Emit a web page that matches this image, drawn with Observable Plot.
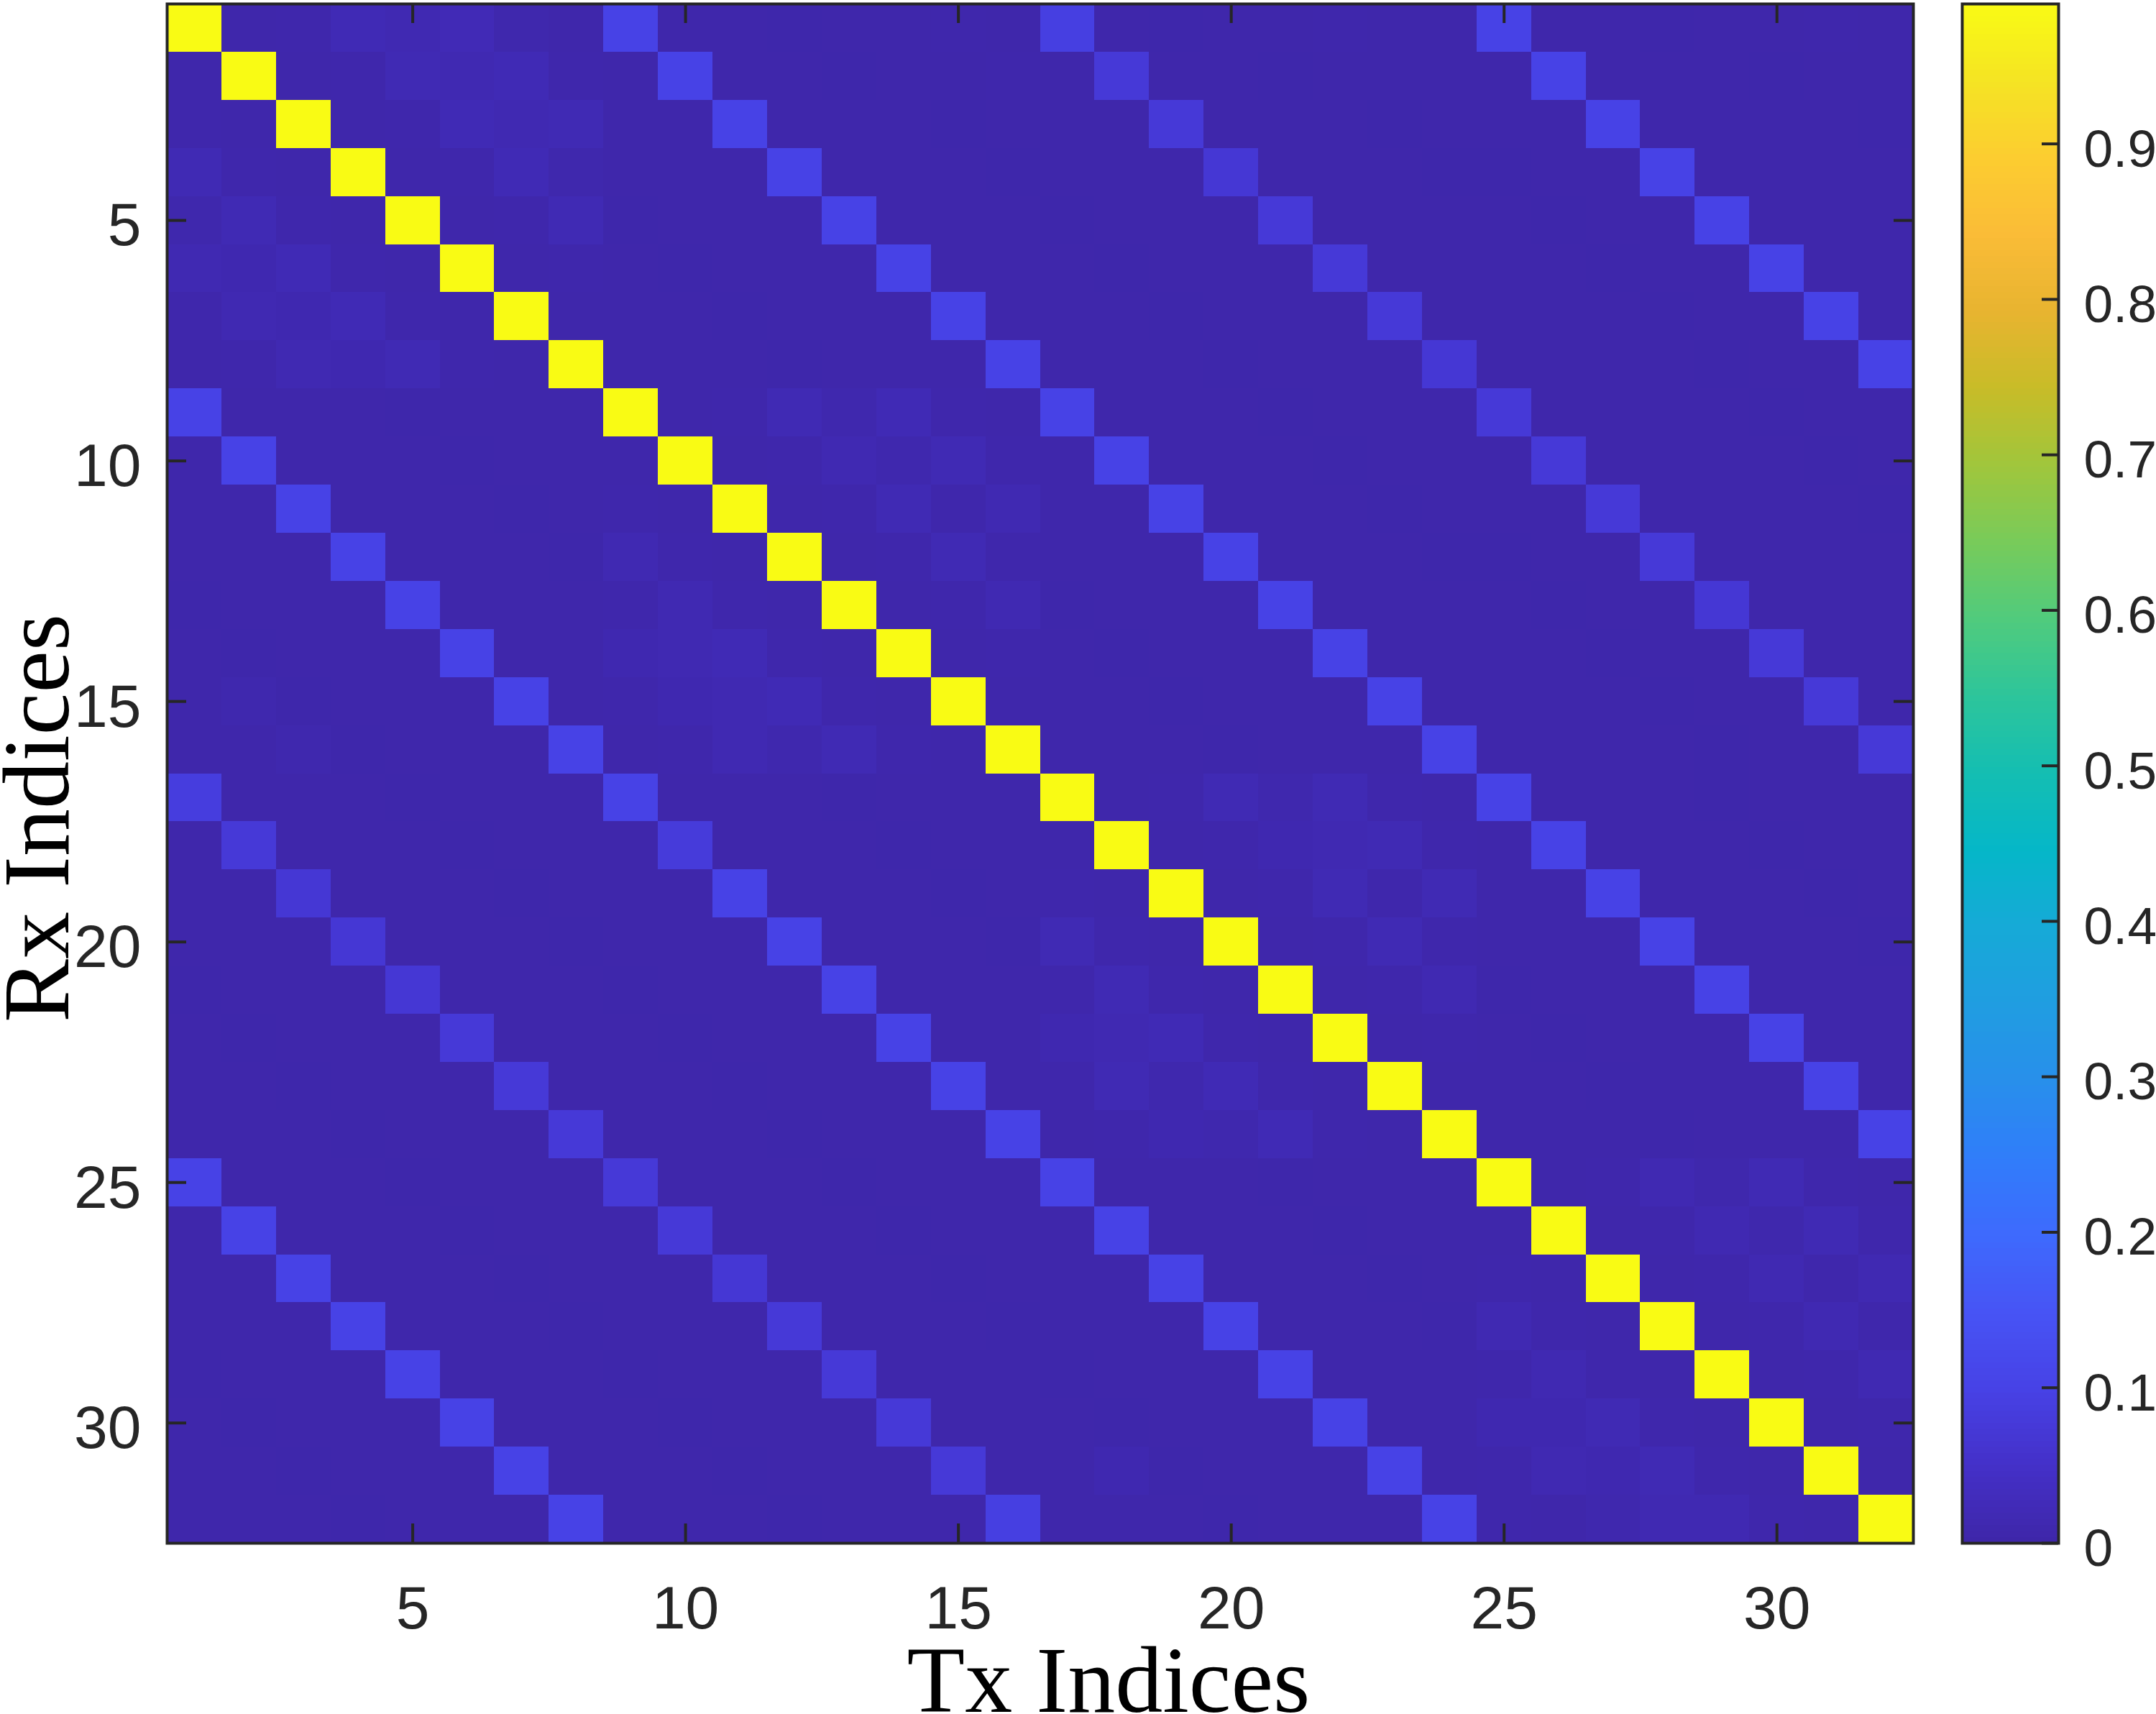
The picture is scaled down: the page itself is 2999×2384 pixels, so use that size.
<!DOCTYPE html>
<html><head><meta charset="utf-8">
<script src="https://cdn.jsdelivr.net/npm/d3@7"></script>
<script src="https://cdn.jsdelivr.net/npm/@observablehq/plot@0.6"></script>
<style>
body{margin:0;background:#fff;}
#wrap{position:relative;width:2999px;height:2384px;overflow:hidden;background:#fff;}
#wrap svg{position:absolute;top:0;}
</style>
</head><body><div id="wrap"></div>
<script>
// Tx (columns) and Rx (rows) indices
const txIndices = Array.from({length: 32}, (_, i) => i + 1);
const rxIndices = Array.from({length: 32}, (_, i) => i + 1);
const xTickValues = [5, 10, 15, 20, 25, 30];
const yTickValues = [5, 10, 15, 20, 25, 30];
const colorbarTicks = [0, 0.1, 0.2, 0.3, 0.4, 0.5, 0.6, 0.7, 0.8, 0.9];
const colorLimits = [0, 0.99];

// correlation magnitude, one array per Rx row (columns = Tx 1..32)
const rx01 = [.99,.005,.006,.02,.015,.022,.008,.005, .1,.005,.005,.004,.005,.005,.006,.005, .09,.005,.004,.005,.005,.006,.005,.005, .1,.005,.005,.004,.005,.005,.006,.005];
const rx02 = [.005,.99,.005,.006,.018,.015,.02,.006, .005,.1,.005,.005,.004,.005,.005,.006, .005,.075,.005,.005,.004,.005,.005,.005, .005,.1,.005,.005,.005,.004,.005,.005];
const rx03 = [.006,.005,.99,.005,.006,.02,.015,.018, .005,.005,.1,.005,.005,.005,.004,.005, .005,.005,.075,.005,.005,.005,.004,.005, .005,.005,.1,.005,.005,.005,.005,.004];
const rx04 = [.018,.006,.005,.99,.005,.006,.02,.008, .005,.005,.005,.1,.005,.005,.005,.004, .005,.005,.005,.07,.005,.005,.005,.004, .004,.005,.005,.1,.005,.005,.005,.005];
const rx05 = [.008,.018,.006,.005,.99,.005,.006,.018, .004,.005,.005,.005,.1,.005,.005,.005, .004,.005,.005,.005,.075,.005,.005,.005, .005,.004,.005,.005,.1,.005,.005,.005];
const rx06 = [.015,.012,.02,.006,.005,.99,.005,.006, .005,.004,.005,.005,.005,.1,.005,.005, .005,.004,.005,.005,.005,.075,.005,.005, .005,.005,.004,.005,.005,.1,.005,.005];
const rx07 = [.006,.015,.012,.02,.006,.005,.99,.005, .005,.005,.004,.005,.005,.005,.1,.005, .005,.005,.004,.005,.005,.005,.075,.005, .005,.005,.005,.004,.005,.005,.1,.005];
const rx08 = [.005,.006,.015,.012,.018,.006,.005,.99, .005,.005,.005,.004,.005,.005,.005,.1, .005,.005,.005,.004,.005,.005,.005,.07, .005,.005,.005,.005,.004,.005,.005,.1];
const rx09 = [.1,.005,.005,.005,.004,.005,.005,.005, .99,.005,.006,.018,.01,.02,.006,.005, .1,.005,.005,.005,.004,.005,.005,.005, .075,.005,.005,.005,.005,.004,.005,.005];
const rx10 = [.005,.1,.005,.005,.005,.004,.005,.005, .005,.99,.005,.006,.015,.01,.018,.006, .005,.1,.005,.005,.005,.004,.005,.005, .005,.075,.005,.005,.005,.005,.004,.005];
const rx11 = [.005,.005,.1,.005,.005,.005,.004,.005, .006,.005,.99,.005,.006,.018,.006,.015, .005,.005,.1,.005,.005,.005,.004,.005, .005,.005,.075,.005,.005,.005,.005,.004];
const rx12 = [.005,.005,.005,.1,.005,.005,.005,.004, .015,.006,.005,.99,.005,.006,.018,.006, .005,.005,.005,.1,.005,.005,.005,.004, .004,.005,.005,.075,.005,.005,.005,.005];
const rx13 = [.004,.005,.005,.005,.1,.005,.005,.005, .006,.015,.006,.005,.99,.005,.006,.015, .004,.005,.005,.005,.1,.005,.005,.005, .005,.004,.005,.005,.07,.005,.005,.005];
const rx14 = [.005,.004,.005,.005,.005,.1,.005,.005, .012,.015,.02,.006,.005,.99,.005,.006, .005,.004,.005,.005,.005,.1,.005,.005, .005,.005,.004,.005,.005,.075,.005,.005];
const rx15 = [.005,.01,.004,.005,.005,.005,.1,.005, .006,.012,.015,.02,.006,.005,.99,.005, .005,.005,.004,.005,.005,.005,.1,.005, .005,.005,.005,.004,.005,.005,.075,.005];
const rx16 = [.005,.005,.01,.004,.005,.005,.005,.1, .005,.006,.015,.01,.018,.006,.005,.99, .005,.005,.005,.004,.005,.005,.005,.1, .005,.005,.005,.005,.004,.005,.005,.075];
const rx17 = [.085,.005,.005,.005,.004,.005,.005,.005, .1,.005,.005,.005,.004,.005,.005,.005, .99,.005,.006,.018,.01,.018,.006,.005, .1,.005,.005,.005,.004,.005,.005,.005];
const rx18 = [.005,.075,.005,.005,.005,.004,.005,.005, .005,.08,.005,.005,.005,.004,.005,.005, .005,.99,.005,.006,.012,.015,.018,.006, .005,.1,.005,.005,.005,.004,.005,.005];
const rx19 = [.005,.005,.07,.005,.005,.005,.004,.005, .005,.005,.1,.005,.005,.005,.004,.005, .006,.005,.99,.005,.006,.018,.006,.018, .005,.005,.1,.005,.005,.005,.004,.005];
const rx20 = [.005,.005,.005,.07,.005,.005,.005,.004, .005,.005,.005,.1,.005,.005,.005,.004, .018,.006,.005,.99,.005,.006,.018,.006, .005,.005,.005,.1,.005,.005,.005,.004];
const rx21 = [.004,.005,.005,.005,.07,.005,.005,.005, .004,.005,.005,.005,.1,.005,.005,.005, .006,.018,.006,.005,.99,.005,.006,.015, .004,.005,.005,.005,.1,.005,.005,.005];
const rx22 = [.005,.004,.005,.005,.005,.075,.005,.005, .005,.004,.005,.005,.005,.1,.005,.005, .012,.015,.02,.006,.005,.99,.005,.006, .005,.004,.005,.005,.005,.1,.005,.005];
const rx23 = [.005,.005,.004,.005,.005,.005,.075,.005, .005,.005,.004,.005,.005,.005,.1,.005, .006,.018,.01,.02,.006,.005,.99,.005, .005,.005,.004,.005,.005,.005,.1,.005];
const rx24 = [.005,.005,.005,.004,.005,.005,.005,.075, .005,.005,.005,.004,.005,.005,.005,.1, .005,.006,.012,.01,.02,.006,.005,.99, .005,.005,.005,.004,.005,.005,.005,.1];
const rx25 = [.1,.005,.005,.005,.004,.005,.005,.005, .075,.005,.005,.005,.004,.005,.005,.005, .1,.005,.005,.005,.004,.005,.005,.005, .99,.005,.006,.015,.008,.018,.006,.005];
const rx26 = [.005,.1,.005,.005,.005,.004,.005,.005, .005,.075,.005,.005,.005,.004,.005,.005, .005,.1,.005,.005,.005,.004,.005,.005, .005,.99,.005,.006,.015,.008,.018,.006];
const rx27 = [.005,.005,.1,.005,.005,.005,.004,.005, .005,.005,.07,.005,.005,.005,.004,.005, .005,.005,.1,.005,.005,.005,.004,.005, .006,.005,.99,.005,.006,.015,.006,.015];
const rx28 = [.005,.005,.005,.1,.005,.005,.005,.004, .005,.005,.005,.075,.005,.005,.005,.004, .005,.005,.005,.1,.005,.005,.005,.004, .015,.006,.005,.99,.005,.006,.015,.006];
const rx29 = [.004,.005,.005,.005,.1,.005,.005,.005, .004,.005,.005,.005,.075,.005,.005,.005, .004,.005,.005,.005,.1,.005,.005,.005, .006,.015,.006,.005,.99,.005,.006,.015];
const rx30 = [.005,.004,.005,.005,.005,.1,.005,.005, .005,.004,.005,.005,.005,.075,.005,.005, .005,.004,.005,.005,.005,.1,.005,.005, .012,.012,.018,.006,.005,.99,.005,.006];
const rx31 = [.005,.005,.004,.005,.005,.005,.1,.005, .005,.005,.004,.005,.005,.005,.075,.005, .005,.012,.004,.005,.005,.005,.1,.005, .006,.015,.012,.018,.006,.005,.99,.005];
const rx32 = [.005,.005,.005,.004,.005,.005,.005,.1, .005,.005,.005,.004,.005,.005,.005,.09, .005,.005,.005,.004,.005,.005,.005,.1, .006,.005,.01,.015,.015,.006,.005,.99];

const matrixRows = [rx01,rx02,rx03,rx04,rx05,rx06,rx07,rx08,rx09,rx10,rx11,rx12,rx13,rx14,rx15,rx16,
                    rx17,rx18,rx19,rx20,rx21,rx22,rx23,rx24,rx25,rx26,rx27,rx28,rx29,rx30,rx31,rx32];

// parula-like colormap stops
const parulaStops = ["#3e26a8","#4430c8","#4742e6","#4754f5","#3e6afd","#307dfa","#288feb","#209de1",
  "#16aad7","#05b7c8","#14beb2","#2dc59b","#50cb7d","#78cb5a","#a0c63c","#c8bc28","#e8b430",
  "#fabc37","#fccd30","#f5e423","#f9fb14"];
const parula = d3.piecewise(d3.interpolateRgb, parulaStops);

const cells = matrixRows.flatMap((row, i) => row.map((v, j) => ({rx: rxIndices[i], tx: txIndices[j], v})));

const W = 2729, H = 2384, ML = 232, MR = 68, MT = 5, MB = 238;
const bwX = (W - ML - MR) / 32, bwY = (H - MT - MB) / 32;
const tickLen = 27, ink = "#262626";

const main = Plot.plot({
  width: W, height: H,
  marginLeft: ML, marginRight: MR, marginTop: MT, marginBottom: MB,
  style: {fontFamily: "'Liberation Sans', Arial, sans-serif", color: ink, background: "transparent", overflow: "visible"},
  x: {type: "band", domain: txIndices, padding: 0, round: false},
  y: {type: "band", domain: rxIndices, padding: 0, round: false},
  color: {type: "linear", domain: colorLimits, interpolate: parula, clamp: true},
  marks: [
    Plot.cell(cells, {x: "tx", y: "rx", fill: "v", inset: 0, shapeRendering: "crispEdges"}),
    Plot.tickX(xTickValues, {x: d => d, y: 32, insetTop: bwY - tickLen, stroke: ink, strokeWidth: 4}),
    Plot.tickX(xTickValues, {x: d => d, y: 1, insetBottom: bwY - tickLen, stroke: ink, strokeWidth: 4}),
    Plot.tickY(yTickValues, {y: d => d, x: 1, insetRight: bwX - tickLen, stroke: ink, strokeWidth: 4}),
    Plot.tickY(yTickValues, {y: d => d, x: 32, insetLeft: bwX - tickLen, stroke: ink, strokeWidth: 4}),
    Plot.frame({stroke: ink, strokeWidth: 4}),
    Plot.axisX({anchor: "bottom", ticks: xTickValues, tickSize: 0, tickPadding: 59, fontSize: 84, label: null, fill: ink}),
    Plot.axisY({anchor: "left", ticks: yTickValues, tickSize: 0, tickPadding: 36, fontSize: 84, label: null, dy: 8, fill: ink}),
    Plot.text(["Tx Indices"], {text: d => d, frameAnchor: "bottom", textAnchor: "middle", dx: 95, dy: 192, lineAnchor: "middle",
      fontSize: 132, fontFamily: "'Liberation Serif', 'Times New Roman', serif", fill: "#000"}),
    Plot.text(["Rx Indices"], {text: d => d, frameAnchor: "left", textAnchor: "middle", rotate: -90, dx: -180, dy: 62, lineAnchor: "middle",
      fontSize: 132, fontFamily: "'Liberation Serif', 'Times New Roman', serif", fill: "#000"})
  ]
});
main.style.left = "0px";

const steps = d3.range(256).map(i => ({y1: colorLimits[1] * i / 256, y2: colorLimits[1] * (i + 1) / 256}));
const CBW = 270;
const cbar = Plot.plot({
  width: CBW, height: H,
  marginLeft: 0, marginRight: CBW - 134, marginTop: MT, marginBottom: MB,
  style: {fontFamily: "'Liberation Sans', Arial, sans-serif", color: ink, background: "transparent", overflow: "visible"},
  x: {domain: [0, 1], axis: null},
  y: {domain: colorLimits},
  color: {type: "linear", domain: colorLimits, interpolate: parula, clamp: true},
  marks: [
    Plot.rect(steps, {x1: 0, x2: 1, y1: "y1", y2: "y2", fill: d => (d.y1 + d.y2) / 2, shapeRendering: "crispEdges"}),
    Plot.ruleY(colorbarTicks, {y: d => d, x1: 1 - 23 / 134, x2: 1, stroke: ink, strokeWidth: 4}),
    Plot.frame({stroke: ink, strokeWidth: 4}),
    Plot.axisY({anchor: "right", ticks: colorbarTicks, tickSize: 0, tickPadding: 35, fontSize: 73, label: null, dy: 8,
      tickFormat: d => String(d), fill: ink})
  ]
});
cbar.style.left = "2729px";

const wrap = document.getElementById("wrap");
wrap.appendChild(main);
wrap.appendChild(cbar);
</script></body></html>
